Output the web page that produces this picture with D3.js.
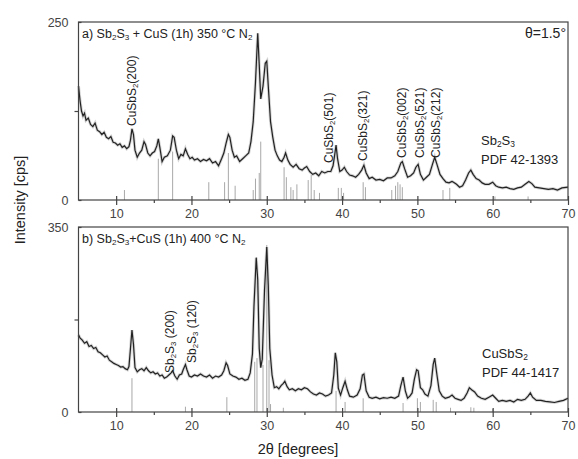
<!DOCTYPE html>
<html lang="en">
<head>
<meta charset="utf-8">
<style>
  body { margin: 0; background: #fff; }
  svg text { font-family: "Liberation Sans", Arial, sans-serif; fill: #222; }
  .tick text { fill: #444; font-size: 12.5px; }
  .tick line, .domain { stroke: #444; }
</style>
</head>
<body>
<div id="chart"></div>
<script src="https://d3js.org/d3.v7.min.js"></script>
<script>
// measured scans, [2theta, intensity]
var scan350 = [
  [5.0,160],[5.2,140],[5.4,125],[5.6,118],[5.8,122],[6.0,112],[6.3,115],[6.6,106],[6.9,103],[7.2,108],
  [7.5,98],[7.8,96],[8.1,92],[8.4,95],[8.7,88],[9.0,86],[9.3,89],[9.6,81],[9.9,80],[10.2,77],
  [10.5,79],[10.8,74],[11.1,76],[11.4,72],[11.7,75],[11.9,84],[12.1,100],[12.3,92],[12.5,70],[12.8,60],
  [13.1,66],[13.4,70],[13.7,82],[13.9,78],[14.2,66],[14.5,62],[14.8,66],[15.1,68],[15.4,76],[15.6,86],
  [15.8,74],[16.1,54],[16.4,60],[16.8,62],[17.2,70],[17.5,90],[17.7,88],[18.0,70],[18.3,58],[18.6,64],
  [18.9,62],[19.2,72],[19.5,64],[19.8,58],[20.1,60],[20.4,56],[20.8,58],[21.2,54],[21.6,57],[22.0,55],
  [22.4,58],[22.8,52],[23.2,54],[23.6,48],[24.0,58],[24.3,66],[24.6,80],[24.9,92],[25.1,88],[25.4,70],
  [25.7,60],[26.0,62],[26.4,54],[26.8,58],[27.2,62],[27.6,66],[27.9,82],[28.2,110],[28.5,165],[28.8,234],
  [29.0,190],[29.2,142],[29.5,160],[29.8,192],[30.0,195],[30.2,160],[30.5,110],[30.8,88],[31.1,70],[31.4,62],
  [31.7,56],[32.0,54],[32.3,60],[32.5,66],[32.8,56],[33.1,50],[33.5,46],[33.9,50],[34.3,44],[34.7,42],
  [35.0,45],[35.3,47],[35.7,40],[36.1,36],[36.5,38],[36.9,34],[37.3,40],[37.7,38],[38.1,40],[38.5,40],
  [38.8,48],[39.0,62],[39.2,77],[39.4,58],[39.7,40],[40.0,42],[40.3,46],[40.6,40],[41.0,35],[41.4,34],
  [41.8,32],[42.2,36],[42.6,42],[42.9,49],[43.2,38],[43.6,30],[44.0,32],[44.5,28],[45.0,29],[45.5,27],
  [46.0,31],[46.5,31],[47.0,34],[47.4,40],[47.8,52],[48.0,54],[48.3,44],[48.7,32],[49.1,34],[49.5,38],
  [49.8,46],[50.1,50],[50.4,36],[50.8,28],[51.2,32],[51.6,36],[52.0,50],[52.3,60],[52.6,50],[53.0,36],
  [53.4,30],[53.8,25],[54.2,24],[54.6,26],[54.8,25],[55.2,22],[55.6,18],[56.0,20],[56.4,28],[56.8,38],
  [57.1,42],[57.4,36],[57.8,30],[58.2,28],[58.6,24],[59.0,22],[59.5,22],[60.0,25],[60.4,20],[60.8,18],
  [61.3,17],[61.8,18],[62.3,16],[62.8,15],[63.3,17],[63.8,18],[64.3,22],[64.8,26],[65.2,23],[65.6,18],
  [66.2,17],[66.8,16],[67.4,15],[68.0,16],[68.6,14],[69.2,17],[70.0,18]
];

var scan400 = [
  [5.0,146],[5.2,140],[5.5,136],[5.8,130],[6.1,133],[6.4,124],[6.7,126],[7.0,120],[7.3,122],[7.6,114],
  [7.9,112],[8.2,108],[8.5,104],[8.8,106],[9.1,98],[9.4,95],[9.7,92],[10.0,90],[10.3,88],[10.6,85],
  [10.9,86],[11.2,82],[11.5,80],[11.7,86],[11.9,120],[12.1,155],[12.3,128],[12.5,84],[12.8,76],[13.1,80],
  [13.4,82],[13.7,78],[14.0,84],[14.3,78],[14.6,74],[14.9,76],[15.2,72],[15.5,74],[15.8,68],[16.1,70],
  [16.4,64],[16.7,66],[17.0,70],[17.3,74],[17.5,78],[17.8,68],[18.1,62],[18.4,70],[18.7,72],[18.9,80],
  [19.2,90],[19.4,80],[19.7,68],[20.0,66],[20.4,70],[20.8,68],[21.2,72],[21.6,68],[22.0,66],[22.4,70],
  [22.8,64],[23.2,68],[23.6,66],[24.0,70],[24.3,78],[24.6,93],[24.8,88],[25.1,72],[25.5,68],[25.9,66],
  [26.3,62],[26.7,64],[27.1,60],[27.5,62],[27.8,74],[28.1,110],[28.3,200],[28.6,292],[28.8,250],[29.0,120],
  [29.2,84],[29.4,100],[29.7,230],[30.0,312],[30.2,240],[30.4,120],[30.7,70],[31.0,46],[31.3,48],[31.6,44],
  [31.9,50],[32.2,54],[32.4,58],[32.7,48],[33.0,42],[33.4,44],[33.8,40],[34.2,44],[34.6,42],[35.0,46],
  [35.4,44],[35.8,38],[36.2,34],[36.6,32],[37.0,36],[37.4,34],[37.8,30],[38.2,32],[38.6,36],[38.9,70],
  [39.1,112],[39.3,95],[39.5,45],[39.8,32],[40.1,46],[40.4,58],[40.7,42],[41.0,30],[41.5,28],[42.0,32],
  [42.4,44],[42.7,70],[42.9,72],[43.2,40],[43.6,28],[44.0,26],[44.5,28],[45.0,25],[45.5,27],[46.0,26],
  [46.5,28],[47.0,26],[47.5,30],[47.8,50],[48.1,66],[48.4,40],[48.7,26],[49.0,30],[49.3,36],[49.6,62],
  [49.9,80],[50.1,78],[50.4,46],[50.7,42],[51.0,34],[51.4,30],[51.8,50],[52.1,90],[52.3,102],[52.6,70],
  [52.9,40],[53.3,30],[53.7,26],[54.2,28],[54.6,32],[55.0,26],[55.4,24],[55.8,22],[56.2,26],[56.6,36],
  [56.9,46],[57.2,42],[57.6,38],[58.0,30],[58.5,26],[59.0,24],[59.5,28],[60.0,32],[60.4,26],[60.8,20],
  [61.3,22],[61.8,20],[62.3,22],[62.8,19],[63.3,24],[63.8,22],[64.3,24],[64.7,30],[65.0,36],[65.3,28],
  [65.8,22],[66.4,22],[67.0,20],[67.6,19],[68.2,18],[68.8,20],[69.4,22],[70.0,26]
];

// reference patterns (sticks)
var pdfSb2S3 = [
  [11.1,14],[15.6,58],[17.5,68],[22.3,25],[24.4,25],[24.9,66],[25.8,20],[28.2,14],[28.5,30],[29.0,38],
  [29.2,82],[32.3,46],[32.6,32],[33.2,18],[33.5,14],[34.0,22],[35.5,28],[35.9,35],[36.3,14],[37.0,10],
  [39.5,17],[39.9,17],[40.2,10],[42.8,25],[43.1,18],[46.6,14],[47.1,20],[47.4,25],[47.7,22],[48.0,18],
  [53.4,14],[54.3,17],[60.3,5],[64.7,5]
];
var pdfCuSbS2 = [
  [12.1,64],[19.2,10],[24.7,28],[28.4,95],[28.7,102],[29.5,89],[30.0,316],[30.3,98],[30.5,15],[32.2,8],
  [39.2,40],[40.4,19],[42.8,26],[48.1,17],[50.0,26],[50.4,19],[52.1,23],[52.5,19],[54.4,8],[57.1,9],
  [57.5,8],[60.0,6]
];

// peak labels [2theta of label, text segments]
var peaks350 = [
  [12.1, [["CuSbS"],["2","sub"],["(200)"]]],
  [38.3, [["CuSbS"],["2","sub"],["(501)"]]],
  [42.8, [["CuSbS"],["2","sub"],["(321)"]]],
  [47.9, [["CuSbS"],["2","sub"],["(002)"]]],
  [50.3, [["CuSbS"],["2","sub"],["(521)"]]],
  [52.5, [["CuSbS"],["2","sub"],["(212)"]]]
];
var peakBase350 = [126, 163, 161, 158, 158, 158];
var peaks400 = [
  [17.2, [["Sb"],["2","sub"],["S"],["3","sub"],[" (200)"]]],
  [20.1, [["Sb"],["2","sub"],["S"],["3","sub"],[" (120)"]]]
];
var peakBase400 = [373, 363];

var xTicks = [10, 20, 30, 40, 50, 60, 70];
var xMinor = [15, 25, 35, 45, 55, 65];

var svg = d3.select("#chart").append("svg")
  .attr("width", 578).attr("height", 459);

var x = d3.scaleLinear().domain([5, 70]).range([78.5, 568]);

function rich(sel, segs) {
  segs.forEach(function (s) {
    var t = sel.append("tspan").text(s[0]);
    if (s[1] == "sub") t.attr("baseline-shift", "-25%").attr("font-size", "0.65em");
  });
}

function panel(y, scan, sticks, yTicks, yMinor, top, bottom) {
  var g = svg.append("g");

  g.selectAll("line.stick").data(sticks).enter().append("line")
    .attr("class", "stick")
    .attr("x1", function (d) { return x(d[0]); })
    .attr("x2", function (d) { return x(d[0]); })
    .attr("y1", y(0))
    .attr("y2", function (d) { return y(d[1]); })
    .attr("stroke", "#a8a8a8").attr("stroke-width", 1);

  var line = d3.line().x(function (d) { return x(d[0]); }).y(function (d) { return y(d[1]); });
  g.append("path").datum(scan).attr("d", line)
    .attr("fill", "none").attr("stroke", "#888").attr("stroke-width", 3).attr("opacity", 0.35);
  g.append("path").datum(scan).attr("d", line)
    .attr("fill", "none").attr("stroke", "#222").attr("stroke-width", 1.2);

  // frame
  g.append("rect")
    .attr("x", x(5)).attr("y", top)
    .attr("width", x(70) - x(5)).attr("height", bottom - top)
    .attr("fill", "none").attr("stroke", "#444").attr("stroke-width", 1.2);

  g.append("g").attr("transform", "translate(0," + bottom + ")")
    .call(d3.axisBottom(x).tickValues(xTicks).tickSize(5).tickPadding(4).tickFormat(d3.format("d")))
    .call(function (a) { a.select(".domain").remove(); a.selectAll(".tick line").attr("y1", -4); });
  g.append("g").attr("transform", "translate(0," + bottom + ")")
    .call(d3.axisBottom(x).tickValues(xMinor).tickSize(3).tickFormat(""))
    .call(function (a) { a.select(".domain").remove(); });

  g.append("g").attr("transform", "translate(" + x(5) + ",0)")
    .call(d3.axisLeft(y).tickValues(yTicks).tickSize(7).tickPadding(3).tickFormat(d3.format("d")))
    .call(function (a) { a.select(".domain").remove(); a.selectAll(".tick line").attr("x2", 3); });
  g.append("g").attr("transform", "translate(" + x(5) + ",0)")
    .call(d3.axisLeft(y).tickValues(yMinor).tickSize(4).tickFormat(""))
    .call(function (a) { a.select(".domain").remove(); });
  g.selectAll(".tick line").attr("stroke-width", 1.2);
  return g;
}

var yTop = d3.scaleLinear().domain([0, 250]).range([200, 22]);
var yBot = d3.scaleLinear().domain([0, 350]).range([412, 227]);

var gA = panel(yTop, scan350, pdfSb2S3, [0, 250], [125], 22, 200);
var gB = panel(yBot, scan400, pdfCuSbS2, [0, 350], [175], 227, 412);

// panel titles
rich(gA.append("text").attr("x", 82).attr("y", 38).attr("font-size", 12.5),
  [["a) Sb"],["2","sub"],["S"],["3","sub"],[" + CuS (1h) 350 "],["°"],["C N"],["2","sub"]]);
rich(gB.append("text").attr("x", 82).attr("y", 243).attr("font-size", 12.5),
  [["b) Sb"],["2","sub"],["S"],["3","sub"],["+CuS (1h) 400 "],["°"],["C N"],["2","sub"]]);

gA.append("text").attr("x", 566).attr("y", 38).attr("text-anchor", "end")
  .attr("font-size", 14).text("θ=1.5°");

// phase legends
rich(gA.append("text").attr("x", 481).attr("y", 145).attr("font-size", 13), [["Sb"],["2","sub"],["S"],["3","sub"]]);
gA.append("text").attr("x", 481).attr("y", 164).attr("font-size", 13).text("PDF 42-1393");
rich(gB.append("text").attr("x", 482).attr("y", 358).attr("font-size", 13), [["CuSbS"],["2","sub"]]);
gB.append("text").attr("x", 482).attr("y", 377).attr("font-size", 13).text("PDF 44-1417");

// rotated peak labels
peaks350.forEach(function (p, i) {
  var px = x(p[0]) + 4, py = peakBase350[i];
  rich(gA.append("text").attr("font-size", 12)
    .attr("transform", "translate(" + px + "," + py + ") rotate(-90)"), p[1]);
});
peaks400.forEach(function (p, i) {
  var px = x(p[0]) + 4, py = peakBase400[i];
  rich(gB.append("text").attr("font-size", 12)
    .attr("transform", "translate(" + px + "," + py + ") rotate(-90)"), p[1]);
});

// axis titles
svg.append("text").attr("transform", "translate(25,200) rotate(-90)")
  .attr("text-anchor", "middle").attr("font-size", 14.5).text("Intensity [cps]");
svg.append("text").attr("x", 298).attr("y", 454)
  .attr("text-anchor", "middle").attr("font-size", 14.5).text("2θ [degrees]");
</script>
</body>
</html>
